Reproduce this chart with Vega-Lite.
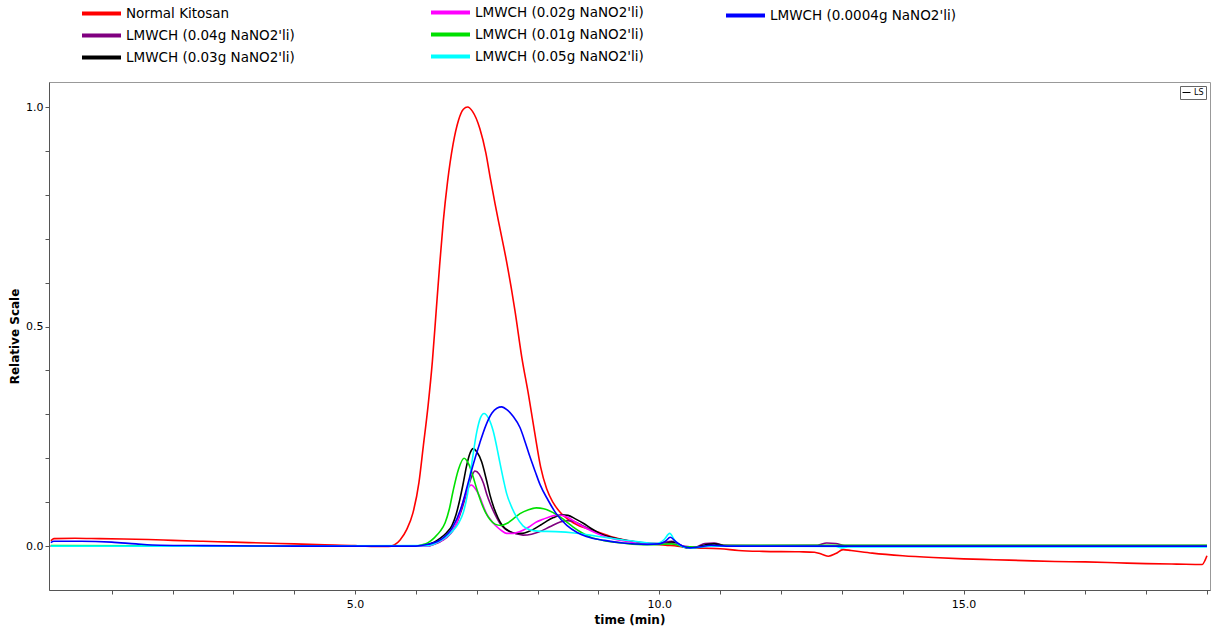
{
"$schema": "https://vega.github.io/schema/vega-lite/v6.json",
"width": 1161, "height": 508,
"autosize": {"type": "none"},
"padding": {"left": 49, "top": 82, "right": 9, "bottom": 47},
"background": "white",
"config": {"view": {"stroke": "#999"}, "font": "DejaVu Sans"},
"datasets": {"gpc": [
{"s":"Normal Kitosan","t":0,"v":0.012},{"s":"Normal Kitosan","t":0.05,"v":0.017},{"s":"Normal Kitosan","t":0.4,"v":0.018},{"s":"Normal Kitosan","t":0.8,"v":0.017},{"s":"Normal Kitosan","t":1.2,"v":0.016},{"s":"Normal Kitosan","t":1.6,"v":0.015},{"s":"Normal Kitosan","t":2.0,"v":0.013},{"s":"Normal Kitosan","t":2.5,"v":0.011},{"s":"Normal Kitosan","t":3.0,"v":0.009},{"s":"Normal Kitosan","t":3.5,"v":0.007},{"s":"Normal Kitosan","t":4.0,"v":0.005},{"s":"Normal Kitosan","t":4.5,"v":0.003},{"s":"Normal Kitosan","t":5.0,"v":0.001},{"s":"Normal Kitosan","t":5.3,"v":-0.001},{"s":"Normal Kitosan","t":5.55,"v":-0.001},{"s":"Normal Kitosan","t":5.65,"v":0.003},{"s":"Normal Kitosan","t":5.74,"v":0.014},{"s":"Normal Kitosan","t":5.85,"v":0.038},{"s":"Normal Kitosan","t":5.95,"v":0.075},{"s":"Normal Kitosan","t":6.05,"v":0.145},{"s":"Normal Kitosan","t":6.12,"v":0.226},{"s":"Normal Kitosan","t":6.2,"v":0.32},{"s":"Normal Kitosan","t":6.27,"v":0.42},{"s":"Normal Kitosan","t":6.33,"v":0.53},{"s":"Normal Kitosan","t":6.39,"v":0.64},{"s":"Normal Kitosan","t":6.45,"v":0.74},{"s":"Normal Kitosan","t":6.52,"v":0.83},{"s":"Normal Kitosan","t":6.61,"v":0.915},{"s":"Normal Kitosan","t":6.7,"v":0.97},{"s":"Normal Kitosan","t":6.78,"v":0.995},{"s":"Normal Kitosan","t":6.85,"v":1.0},{"s":"Normal Kitosan","t":6.93,"v":0.99},{"s":"Normal Kitosan","t":7.05,"v":0.951},{"s":"Normal Kitosan","t":7.15,"v":0.895},{"s":"Normal Kitosan","t":7.22,"v":0.84},{"s":"Normal Kitosan","t":7.3,"v":0.78},{"s":"Normal Kitosan","t":7.38,"v":0.724},{"s":"Normal Kitosan","t":7.49,"v":0.648},{"s":"Normal Kitosan","t":7.63,"v":0.534},{"s":"Normal Kitosan","t":7.74,"v":0.43},{"s":"Normal Kitosan","t":7.85,"v":0.345},{"s":"Normal Kitosan","t":7.95,"v":0.26},{"s":"Normal Kitosan","t":8.05,"v":0.18},{"s":"Normal Kitosan","t":8.15,"v":0.13},{"s":"Normal Kitosan","t":8.25,"v":0.1},{"s":"Normal Kitosan","t":8.37,"v":0.077},{"s":"Normal Kitosan","t":8.6,"v":0.052},{"s":"Normal Kitosan","t":8.91,"v":0.036},{"s":"Normal Kitosan","t":9.2,"v":0.022},{"s":"Normal Kitosan","t":9.5,"v":0.012},{"s":"Normal Kitosan","t":9.8,"v":0.006},{"s":"Normal Kitosan","t":10.1,"v":0.002},{"s":"Normal Kitosan","t":10.3,"v":0.0},{"s":"Normal Kitosan","t":10.5,"v":-0.004},{"s":"Normal Kitosan","t":11.0,"v":-0.006},{"s":"Normal Kitosan","t":11.3,"v":-0.01},{"s":"Normal Kitosan","t":11.7,"v":-0.012},{"s":"Normal Kitosan","t":12.3,"v":-0.013},{"s":"Normal Kitosan","t":12.55,"v":-0.014},{"s":"Normal Kitosan","t":12.68,"v":-0.019},{"s":"Normal Kitosan","t":12.78,"v":-0.023},{"s":"Normal Kitosan","t":12.9,"v":-0.017},{"s":"Normal Kitosan","t":13.02,"v":-0.008},{"s":"Normal Kitosan","t":13.15,"v":-0.01},{"s":"Normal Kitosan","t":13.5,"v":-0.016},{"s":"Normal Kitosan","t":14.0,"v":-0.022},{"s":"Normal Kitosan","t":14.5,"v":-0.026},{"s":"Normal Kitosan","t":15.0,"v":-0.029},{"s":"Normal Kitosan","t":15.5,"v":-0.031},{"s":"Normal Kitosan","t":16.0,"v":-0.033},{"s":"Normal Kitosan","t":16.5,"v":-0.035},{"s":"Normal Kitosan","t":17.0,"v":-0.036},{"s":"Normal Kitosan","t":17.5,"v":-0.038},{"s":"Normal Kitosan","t":18.0,"v":-0.04},{"s":"Normal Kitosan","t":18.5,"v":-0.041},{"s":"Normal Kitosan","t":18.92,"v":-0.042},{"s":"Normal Kitosan","t":18.97,"v":-0.032},{"s":"Normal Kitosan","t":19.0,"v":-0.022},
{"s":"LMWCH (0.04g NaNO2'li)","t":0,"v":0.0},{"s":"LMWCH (0.04g NaNO2'li)","t":6.2,"v":0.0},{"s":"LMWCH (0.04g NaNO2'li)","t":6.3,"v":0.004},{"s":"LMWCH (0.04g NaNO2'li)","t":6.4,"v":0.01},{"s":"LMWCH (0.04g NaNO2'li)","t":6.5,"v":0.019},{"s":"LMWCH (0.04g NaNO2'li)","t":6.61,"v":0.036},{"s":"LMWCH (0.04g NaNO2'li)","t":6.68,"v":0.055},{"s":"LMWCH (0.04g NaNO2'li)","t":6.75,"v":0.082},{"s":"LMWCH (0.04g NaNO2'li)","t":6.81,"v":0.11},{"s":"LMWCH (0.04g NaNO2'li)","t":6.86,"v":0.135},{"s":"LMWCH (0.04g NaNO2'li)","t":6.92,"v":0.16},{"s":"LMWCH (0.04g NaNO2'li)","t":6.97,"v":0.171},{"s":"LMWCH (0.04g NaNO2'li)","t":7.04,"v":0.164},{"s":"LMWCH (0.04g NaNO2'li)","t":7.11,"v":0.143},{"s":"LMWCH (0.04g NaNO2'li)","t":7.16,"v":0.12},{"s":"LMWCH (0.04g NaNO2'li)","t":7.22,"v":0.097},{"s":"LMWCH (0.04g NaNO2'li)","t":7.3,"v":0.072},{"s":"LMWCH (0.04g NaNO2'li)","t":7.38,"v":0.052},{"s":"LMWCH (0.04g NaNO2'li)","t":7.46,"v":0.04},{"s":"LMWCH (0.04g NaNO2'li)","t":7.54,"v":0.033},{"s":"LMWCH (0.04g NaNO2'li)","t":7.65,"v":0.028},{"s":"LMWCH (0.04g NaNO2'li)","t":7.76,"v":0.025},{"s":"LMWCH (0.04g NaNO2'li)","t":7.9,"v":0.027},{"s":"LMWCH (0.04g NaNO2'li)","t":8.04,"v":0.033},{"s":"LMWCH (0.04g NaNO2'li)","t":8.2,"v":0.044},{"s":"LMWCH (0.04g NaNO2'li)","t":8.37,"v":0.055},{"s":"LMWCH (0.04g NaNO2'li)","t":8.5,"v":0.058},{"s":"LMWCH (0.04g NaNO2'li)","t":8.6,"v":0.056},{"s":"LMWCH (0.04g NaNO2'li)","t":8.73,"v":0.047},{"s":"LMWCH (0.04g NaNO2'li)","t":8.86,"v":0.038},{"s":"LMWCH (0.04g NaNO2'li)","t":9.1,"v":0.024},{"s":"LMWCH (0.04g NaNO2'li)","t":9.41,"v":0.014},{"s":"LMWCH (0.04g NaNO2'li)","t":9.7,"v":0.008},{"s":"LMWCH (0.04g NaNO2'li)","t":10.0,"v":0.006},{"s":"LMWCH (0.04g NaNO2'li)","t":10.2,"v":0.011},{"s":"LMWCH (0.04g NaNO2'li)","t":10.3,"v":0.006},{"s":"LMWCH (0.04g NaNO2'li)","t":10.45,"v":-0.003},{"s":"LMWCH (0.04g NaNO2'li)","t":10.6,"v":-0.002},{"s":"LMWCH (0.04g NaNO2'li)","t":10.75,"v":0.006},{"s":"LMWCH (0.04g NaNO2'li)","t":10.9,"v":0.007},{"s":"LMWCH (0.04g NaNO2'li)","t":11.05,"v":0.002},{"s":"LMWCH (0.04g NaNO2'li)","t":11.3,"v":0.001},{"s":"LMWCH (0.04g NaNO2'li)","t":12.6,"v":0.002},{"s":"LMWCH (0.04g NaNO2'li)","t":12.75,"v":0.007},{"s":"LMWCH (0.04g NaNO2'li)","t":12.9,"v":0.006},{"s":"LMWCH (0.04g NaNO2'li)","t":13.05,"v":0.001},{"s":"LMWCH (0.04g NaNO2'li)","t":19.0,"v":0.001},
{"s":"LMWCH (0.03g NaNO2'li)","t":0,"v":0.0},{"s":"LMWCH (0.03g NaNO2'li)","t":6.1,"v":0.0},{"s":"LMWCH (0.03g NaNO2'li)","t":6.2,"v":0.004},{"s":"LMWCH (0.03g NaNO2'li)","t":6.3,"v":0.009},{"s":"LMWCH (0.03g NaNO2'li)","t":6.39,"v":0.017},{"s":"LMWCH (0.03g NaNO2'li)","t":6.5,"v":0.03},{"s":"LMWCH (0.03g NaNO2'li)","t":6.59,"v":0.046},{"s":"LMWCH (0.03g NaNO2'li)","t":6.66,"v":0.072},{"s":"LMWCH (0.03g NaNO2'li)","t":6.72,"v":0.105},{"s":"LMWCH (0.03g NaNO2'li)","t":6.78,"v":0.145},{"s":"LMWCH (0.03g NaNO2'li)","t":6.83,"v":0.181},{"s":"LMWCH (0.03g NaNO2'li)","t":6.89,"v":0.212},{"s":"LMWCH (0.03g NaNO2'li)","t":6.94,"v":0.222},{"s":"LMWCH (0.03g NaNO2'li)","t":7.0,"v":0.215},{"s":"LMWCH (0.03g NaNO2'li)","t":7.08,"v":0.192},{"s":"LMWCH (0.03g NaNO2'li)","t":7.16,"v":0.15},{"s":"LMWCH (0.03g NaNO2'li)","t":7.22,"v":0.115},{"s":"LMWCH (0.03g NaNO2'li)","t":7.28,"v":0.088},{"s":"LMWCH (0.03g NaNO2'li)","t":7.35,"v":0.064},{"s":"LMWCH (0.03g NaNO2'li)","t":7.43,"v":0.045},{"s":"LMWCH (0.03g NaNO2'li)","t":7.55,"v":0.033},{"s":"LMWCH (0.03g NaNO2'li)","t":7.65,"v":0.029},{"s":"LMWCH (0.03g NaNO2'li)","t":7.75,"v":0.029},{"s":"LMWCH (0.03g NaNO2'li)","t":7.85,"v":0.033},{"s":"LMWCH (0.03g NaNO2'li)","t":7.93,"v":0.038},{"s":"LMWCH (0.03g NaNO2'li)","t":8.05,"v":0.048},{"s":"LMWCH (0.03g NaNO2'li)","t":8.15,"v":0.057},{"s":"LMWCH (0.03g NaNO2'li)","t":8.26,"v":0.065},{"s":"LMWCH (0.03g NaNO2'li)","t":8.39,"v":0.071},{"s":"LMWCH (0.03g NaNO2'li)","t":8.5,"v":0.07},{"s":"LMWCH (0.03g NaNO2'li)","t":8.62,"v":0.062},{"s":"LMWCH (0.03g NaNO2'li)","t":8.75,"v":0.052},{"s":"LMWCH (0.03g NaNO2'li)","t":8.88,"v":0.04},{"s":"LMWCH (0.03g NaNO2'li)","t":9.02,"v":0.029},{"s":"LMWCH (0.03g NaNO2'li)","t":9.2,"v":0.02},{"s":"LMWCH (0.03g NaNO2'li)","t":9.41,"v":0.014},{"s":"LMWCH (0.03g NaNO2'li)","t":9.6,"v":0.009},{"s":"LMWCH (0.03g NaNO2'li)","t":9.85,"v":0.005},{"s":"LMWCH (0.03g NaNO2'li)","t":10.1,"v":0.006},{"s":"LMWCH (0.03g NaNO2'li)","t":10.2,"v":0.009},{"s":"LMWCH (0.03g NaNO2'li)","t":10.3,"v":0.004},{"s":"LMWCH (0.03g NaNO2'li)","t":10.45,"v":-0.004},{"s":"LMWCH (0.03g NaNO2'li)","t":10.6,"v":-0.003},{"s":"LMWCH (0.03g NaNO2'li)","t":10.8,"v":0.004},{"s":"LMWCH (0.03g NaNO2'li)","t":10.9,"v":0.005},{"s":"LMWCH (0.03g NaNO2'li)","t":11.1,"v":0.001},{"s":"LMWCH (0.03g NaNO2'li)","t":19.0,"v":0.0},
{"s":"LMWCH (0.02g NaNO2'li)","t":0,"v":0.0},{"s":"LMWCH (0.02g NaNO2'li)","t":6.2,"v":0.0},{"s":"LMWCH (0.02g NaNO2'li)","t":6.3,"v":0.005},{"s":"LMWCH (0.02g NaNO2'li)","t":6.4,"v":0.011},{"s":"LMWCH (0.02g NaNO2'li)","t":6.5,"v":0.02},{"s":"LMWCH (0.02g NaNO2'li)","t":6.6,"v":0.034},{"s":"LMWCH (0.02g NaNO2'li)","t":6.67,"v":0.052},{"s":"LMWCH (0.02g NaNO2'li)","t":6.72,"v":0.075},{"s":"LMWCH (0.02g NaNO2'li)","t":6.78,"v":0.103},{"s":"LMWCH (0.02g NaNO2'li)","t":6.85,"v":0.13},{"s":"LMWCH (0.02g NaNO2'li)","t":6.91,"v":0.139},{"s":"LMWCH (0.02g NaNO2'li)","t":6.98,"v":0.13},{"s":"LMWCH (0.02g NaNO2'li)","t":7.05,"v":0.112},{"s":"LMWCH (0.02g NaNO2'li)","t":7.1,"v":0.094},{"s":"LMWCH (0.02g NaNO2'li)","t":7.16,"v":0.074},{"s":"LMWCH (0.02g NaNO2'li)","t":7.25,"v":0.056},{"s":"LMWCH (0.02g NaNO2'li)","t":7.33,"v":0.044},{"s":"LMWCH (0.02g NaNO2'li)","t":7.41,"v":0.035},{"s":"LMWCH (0.02g NaNO2'li)","t":7.49,"v":0.029},{"s":"LMWCH (0.02g NaNO2'li)","t":7.6,"v":0.029},{"s":"LMWCH (0.02g NaNO2'li)","t":7.71,"v":0.033},{"s":"LMWCH (0.02g NaNO2'li)","t":7.85,"v":0.043},{"s":"LMWCH (0.02g NaNO2'li)","t":7.98,"v":0.055},{"s":"LMWCH (0.02g NaNO2'li)","t":8.09,"v":0.061},{"s":"LMWCH (0.02g NaNO2'li)","t":8.2,"v":0.067},{"s":"LMWCH (0.02g NaNO2'li)","t":8.3,"v":0.07},{"s":"LMWCH (0.02g NaNO2'li)","t":8.4,"v":0.07},{"s":"LMWCH (0.02g NaNO2'li)","t":8.5,"v":0.065},{"s":"LMWCH (0.02g NaNO2'li)","t":8.65,"v":0.052},{"s":"LMWCH (0.02g NaNO2'li)","t":8.86,"v":0.036},{"s":"LMWCH (0.02g NaNO2'li)","t":9.1,"v":0.022},{"s":"LMWCH (0.02g NaNO2'li)","t":9.4,"v":0.012},{"s":"LMWCH (0.02g NaNO2'li)","t":9.8,"v":0.005},{"s":"LMWCH (0.02g NaNO2'li)","t":10.2,"v":0.006},{"s":"LMWCH (0.02g NaNO2'li)","t":10.4,"v":0.0},{"s":"LMWCH (0.02g NaNO2'li)","t":10.6,"v":-0.002},{"s":"LMWCH (0.02g NaNO2'li)","t":11.0,"v":0.0},{"s":"LMWCH (0.02g NaNO2'li)","t":19.0,"v":0.0},
{"s":"LMWCH (0.01g NaNO2'li)","t":0,"v":0.001},{"s":"LMWCH (0.01g NaNO2'li)","t":3.0,"v":0.0},{"s":"LMWCH (0.01g NaNO2'li)","t":6.0,"v":0.0},{"s":"LMWCH (0.01g NaNO2'li)","t":6.1,"v":0.003},{"s":"LMWCH (0.01g NaNO2'li)","t":6.2,"v":0.008},{"s":"LMWCH (0.01g NaNO2'li)","t":6.31,"v":0.02},{"s":"LMWCH (0.01g NaNO2'li)","t":6.4,"v":0.034},{"s":"LMWCH (0.01g NaNO2'li)","t":6.48,"v":0.053},{"s":"LMWCH (0.01g NaNO2'li)","t":6.55,"v":0.085},{"s":"LMWCH (0.01g NaNO2'li)","t":6.61,"v":0.125},{"s":"LMWCH (0.01g NaNO2'li)","t":6.7,"v":0.175},{"s":"LMWCH (0.01g NaNO2'li)","t":6.79,"v":0.2},{"s":"LMWCH (0.01g NaNO2'li)","t":6.87,"v":0.186},{"s":"LMWCH (0.01g NaNO2'li)","t":6.94,"v":0.158},{"s":"LMWCH (0.01g NaNO2'li)","t":7.0,"v":0.13},{"s":"LMWCH (0.01g NaNO2'li)","t":7.08,"v":0.097},{"s":"LMWCH (0.01g NaNO2'li)","t":7.15,"v":0.075},{"s":"LMWCH (0.01g NaNO2'li)","t":7.22,"v":0.06},{"s":"LMWCH (0.01g NaNO2'li)","t":7.3,"v":0.05},{"s":"LMWCH (0.01g NaNO2'li)","t":7.4,"v":0.047},{"s":"LMWCH (0.01g NaNO2'li)","t":7.5,"v":0.052},{"s":"LMWCH (0.01g NaNO2'li)","t":7.6,"v":0.062},{"s":"LMWCH (0.01g NaNO2'li)","t":7.71,"v":0.074},{"s":"LMWCH (0.01g NaNO2'li)","t":7.85,"v":0.083},{"s":"LMWCH (0.01g NaNO2'li)","t":7.98,"v":0.087},{"s":"LMWCH (0.01g NaNO2'li)","t":8.1,"v":0.085},{"s":"LMWCH (0.01g NaNO2'li)","t":8.2,"v":0.08},{"s":"LMWCH (0.01g NaNO2'li)","t":8.31,"v":0.072},{"s":"LMWCH (0.01g NaNO2'li)","t":8.45,"v":0.058},{"s":"LMWCH (0.01g NaNO2'li)","t":8.58,"v":0.044},{"s":"LMWCH (0.01g NaNO2'li)","t":8.72,"v":0.031},{"s":"LMWCH (0.01g NaNO2'li)","t":8.86,"v":0.021},{"s":"LMWCH (0.01g NaNO2'li)","t":9.1,"v":0.012},{"s":"LMWCH (0.01g NaNO2'li)","t":9.4,"v":0.007},{"s":"LMWCH (0.01g NaNO2'li)","t":9.8,"v":0.003},{"s":"LMWCH (0.01g NaNO2'li)","t":10.2,"v":0.005},{"s":"LMWCH (0.01g NaNO2'li)","t":10.4,"v":-0.001},{"s":"LMWCH (0.01g NaNO2'li)","t":10.6,"v":-0.002},{"s":"LMWCH (0.01g NaNO2'li)","t":11.0,"v":0.001},{"s":"LMWCH (0.01g NaNO2'li)","t":12.0,"v":0.002},{"s":"LMWCH (0.01g NaNO2'li)","t":19.0,"v":0.002},
{"s":"LMWCH (0.05g NaNO2'li)","t":0,"v":0.0},{"s":"LMWCH (0.05g NaNO2'li)","t":3.0,"v":0.0},{"s":"LMWCH (0.05g NaNO2'li)","t":6.2,"v":0.001},{"s":"LMWCH (0.05g NaNO2'li)","t":6.3,"v":0.005},{"s":"LMWCH (0.05g NaNO2'li)","t":6.4,"v":0.012},{"s":"LMWCH (0.05g NaNO2'li)","t":6.5,"v":0.021},{"s":"LMWCH (0.05g NaNO2'li)","t":6.6,"v":0.034},{"s":"LMWCH (0.05g NaNO2'li)","t":6.7,"v":0.052},{"s":"LMWCH (0.05g NaNO2'li)","t":6.78,"v":0.077},{"s":"LMWCH (0.05g NaNO2'li)","t":6.85,"v":0.12},{"s":"LMWCH (0.05g NaNO2'li)","t":6.92,"v":0.19},{"s":"LMWCH (0.05g NaNO2'li)","t":7.0,"v":0.26},{"s":"LMWCH (0.05g NaNO2'li)","t":7.06,"v":0.292},{"s":"LMWCH (0.05g NaNO2'li)","t":7.12,"v":0.302},{"s":"LMWCH (0.05g NaNO2'li)","t":7.19,"v":0.292},{"s":"LMWCH (0.05g NaNO2'li)","t":7.27,"v":0.262},{"s":"LMWCH (0.05g NaNO2'li)","t":7.33,"v":0.225},{"s":"LMWCH (0.05g NaNO2'li)","t":7.38,"v":0.19},{"s":"LMWCH (0.05g NaNO2'li)","t":7.44,"v":0.15},{"s":"LMWCH (0.05g NaNO2'li)","t":7.49,"v":0.12},{"s":"LMWCH (0.05g NaNO2'li)","t":7.57,"v":0.09},{"s":"LMWCH (0.05g NaNO2'li)","t":7.65,"v":0.067},{"s":"LMWCH (0.05g NaNO2'li)","t":7.76,"v":0.046},{"s":"LMWCH (0.05g NaNO2'li)","t":7.87,"v":0.037},{"s":"LMWCH (0.05g NaNO2'li)","t":8.0,"v":0.034},{"s":"LMWCH (0.05g NaNO2'li)","t":8.3,"v":0.033},{"s":"LMWCH (0.05g NaNO2'li)","t":8.6,"v":0.03},{"s":"LMWCH (0.05g NaNO2'li)","t":8.86,"v":0.025},{"s":"LMWCH (0.05g NaNO2'li)","t":9.15,"v":0.019},{"s":"LMWCH (0.05g NaNO2'li)","t":9.41,"v":0.014},{"s":"LMWCH (0.05g NaNO2'li)","t":9.7,"v":0.009},{"s":"LMWCH (0.05g NaNO2'li)","t":9.96,"v":0.006},{"s":"LMWCH (0.05g NaNO2'li)","t":10.08,"v":0.015},{"s":"LMWCH (0.05g NaNO2'li)","t":10.17,"v":0.029},{"s":"LMWCH (0.05g NaNO2'li)","t":10.25,"v":0.014},{"s":"LMWCH (0.05g NaNO2'li)","t":10.34,"v":0.002},{"s":"LMWCH (0.05g NaNO2'li)","t":10.5,"v":-0.005},{"s":"LMWCH (0.05g NaNO2'li)","t":10.65,"v":-0.003},{"s":"LMWCH (0.05g NaNO2'li)","t":10.8,"v":0.0},{"s":"LMWCH (0.05g NaNO2'li)","t":12.9,"v":-0.001},{"s":"LMWCH (0.05g NaNO2'li)","t":13.0,"v":-0.004},{"s":"LMWCH (0.05g NaNO2'li)","t":13.1,"v":-0.002},{"s":"LMWCH (0.05g NaNO2'li)","t":16.0,"v":-0.002},{"s":"LMWCH (0.05g NaNO2'li)","t":19.0,"v":-0.002},
{"s":"LMWCH (0.0004g NaNO2'li)","t":0,"v":0.008},{"s":"LMWCH (0.0004g NaNO2'li)","t":0.05,"v":0.011},{"s":"LMWCH (0.0004g NaNO2'li)","t":0.5,"v":0.011},{"s":"LMWCH (0.0004g NaNO2'li)","t":1.0,"v":0.009},{"s":"LMWCH (0.0004g NaNO2'li)","t":1.4,"v":0.005},{"s":"LMWCH (0.0004g NaNO2'li)","t":1.8,"v":0.002},{"s":"LMWCH (0.0004g NaNO2'li)","t":2.5,"v":0.001},{"s":"LMWCH (0.0004g NaNO2'li)","t":4.0,"v":0.0},{"s":"LMWCH (0.0004g NaNO2'li)","t":6.0,"v":0.0},{"s":"LMWCH (0.0004g NaNO2'li)","t":6.2,"v":0.004},{"s":"LMWCH (0.0004g NaNO2'li)","t":6.4,"v":0.014},{"s":"LMWCH (0.0004g NaNO2'li)","t":6.6,"v":0.042},{"s":"LMWCH (0.0004g NaNO2'li)","t":6.75,"v":0.09},{"s":"LMWCH (0.0004g NaNO2'li)","t":6.85,"v":0.14},{"s":"LMWCH (0.0004g NaNO2'li)","t":6.95,"v":0.19},{"s":"LMWCH (0.0004g NaNO2'li)","t":7.05,"v":0.235},{"s":"LMWCH (0.0004g NaNO2'li)","t":7.15,"v":0.275},{"s":"LMWCH (0.0004g NaNO2'li)","t":7.25,"v":0.303},{"s":"LMWCH (0.0004g NaNO2'li)","t":7.33,"v":0.314},{"s":"LMWCH (0.0004g NaNO2'li)","t":7.41,"v":0.317},{"s":"LMWCH (0.0004g NaNO2'li)","t":7.5,"v":0.31},{"s":"LMWCH (0.0004g NaNO2'li)","t":7.6,"v":0.295},{"s":"LMWCH (0.0004g NaNO2'li)","t":7.71,"v":0.27},{"s":"LMWCH (0.0004g NaNO2'li)","t":7.8,"v":0.235},{"s":"LMWCH (0.0004g NaNO2'li)","t":7.87,"v":0.205},{"s":"LMWCH (0.0004g NaNO2'li)","t":7.96,"v":0.17},{"s":"LMWCH (0.0004g NaNO2'li)","t":8.04,"v":0.14},{"s":"LMWCH (0.0004g NaNO2'li)","t":8.17,"v":0.105},{"s":"LMWCH (0.0004g NaNO2'li)","t":8.3,"v":0.075},{"s":"LMWCH (0.0004g NaNO2'li)","t":8.48,"v":0.047},{"s":"LMWCH (0.0004g NaNO2'li)","t":8.65,"v":0.031},{"s":"LMWCH (0.0004g NaNO2'li)","t":8.8,"v":0.022},{"s":"LMWCH (0.0004g NaNO2'li)","t":9.1,"v":0.013},{"s":"LMWCH (0.0004g NaNO2'li)","t":9.4,"v":0.007},{"s":"LMWCH (0.0004g NaNO2'li)","t":9.8,"v":0.004},{"s":"LMWCH (0.0004g NaNO2'li)","t":10.0,"v":0.005},{"s":"LMWCH (0.0004g NaNO2'li)","t":10.1,"v":0.011},{"s":"LMWCH (0.0004g NaNO2'li)","t":10.18,"v":0.02},{"s":"LMWCH (0.0004g NaNO2'li)","t":10.27,"v":0.01},{"s":"LMWCH (0.0004g NaNO2'li)","t":10.38,"v":0.0},{"s":"LMWCH (0.0004g NaNO2'li)","t":10.5,"v":-0.004},{"s":"LMWCH (0.0004g NaNO2'li)","t":10.65,"v":-0.002},{"s":"LMWCH (0.0004g NaNO2'li)","t":10.85,"v":0.002},{"s":"LMWCH (0.0004g NaNO2'li)","t":11.1,"v":0.0},{"s":"LMWCH (0.0004g NaNO2'li)","t":16.0,"v":0.0},{"s":"LMWCH (0.0004g NaNO2'li)","t":19.0,"v":0.0}
]},
"layer": [
{"data": {"name": "gpc"},
 "transform": [{"filter": {"field": "s", "oneOf": ["Normal Kitosan", "LMWCH (0.04g NaNO2'li)", "LMWCH (0.03g NaNO2'li)"]}}],
 "mark": {"type": "line", "strokeWidth": 1.6, "interpolate": "monotone", "clip": true},
 "encoding": {
  "x": {"field": "t", "type": "quantitative", "scale": {"domain": [-0.03, 19.05], "nice": false, "zero": false},
    "axis": {"title": "time (min)", "values": [1,2,3,4,5,6,7,8,9,10,11,12,13,14,15,16,17,18,19], "labelExpr": "datum.value % 5 === 0 ? format(datum.value, '.1f') : ''", "labelOverlap": false, "grid": false, "tickSize": 4, "labelFontSize": 11, "labelFont": "DejaVu Sans", "labelColor": "#000", "titleFont": "DejaVu Sans", "titleFontSize": 12, "titleFontWeight": "bold", "titleColor": "#000", "titlePadding": 5, "labelPadding": 4, "domainColor": "#555", "tickColor": "#555"}},
  "y": {"field": "v", "type": "quantitative", "scale": {"domain": [-0.1, 1.057], "nice": false, "zero": false},
    "axis": {"title": "Relative Scale", "values": [0,0.1,0.2,0.3,0.4,0.5,0.6,0.7,0.8,0.9,1], "labelExpr": "(datum.value === 0 || datum.value === 0.5 || datum.value === 1) ? format(datum.value, '.1f') : ''", "labelOverlap": false, "grid": false, "tickSize": 4, "labelFontSize": 11, "labelFont": "DejaVu Sans", "labelColor": "#000", "titleFont": "DejaVu Sans", "titleFontSize": 12, "titleFontWeight": "bold", "titleColor": "#000", "titlePadding": 4, "labelPadding": 2, "domainColor": "#555", "tickColor": "#555"}},
  "color": {"field": "s", "type": "nominal",
    "scale": {"domain": ["Normal Kitosan", "LMWCH (0.04g NaNO2'li)", "LMWCH (0.03g NaNO2'li)"], "range": ["#ff0000", "#800080", "#000000"]},
    "legend": {"title": null, "orient": "none", "legendX": 31, "legendY": -77, "direction": "vertical", "symbolType": "M-1,0H5", "symbolSize": 169, "symbolStrokeWidth": 4, "labelFont": "DejaVu Sans", "labelFontSize": 13.5, "labelColor": "#000", "labelOffset": 29, "rowPadding": 5, "padding": 0, "labelLimit": 400}}
 }},
{"data": {"name": "gpc"},
 "transform": [{"filter": {"field": "s", "oneOf": ["LMWCH (0.02g NaNO2'li)", "LMWCH (0.01g NaNO2'li)", "LMWCH (0.05g NaNO2'li)"]}}],
 "mark": {"type": "line", "strokeWidth": 1.6, "interpolate": "monotone", "clip": true},
 "encoding": {
  "x": {"field": "t", "type": "quantitative"},
  "y": {"field": "v", "type": "quantitative"},
  "color": {"field": "s", "type": "nominal",
    "scale": {"domain": ["LMWCH (0.02g NaNO2'li)", "LMWCH (0.01g NaNO2'li)", "LMWCH (0.05g NaNO2'li)"], "range": ["#ff00ff", "#00e000", "#00ffff"]},
    "legend": {"title": null, "orient": "none", "legendX": 380, "legendY": -78, "direction": "vertical", "symbolType": "M-1,0H5", "symbolSize": 169, "symbolStrokeWidth": 4, "labelFont": "DejaVu Sans", "labelFontSize": 13.5, "labelColor": "#000", "labelOffset": 29, "rowPadding": 5, "padding": 0, "labelLimit": 400}}
 }},
{"data": {"name": "gpc"},
 "transform": [{"filter": {"field": "s", "oneOf": ["LMWCH (0.0004g NaNO2'li)"]}}],
 "mark": {"type": "line", "strokeWidth": 1.6, "interpolate": "monotone", "clip": true},
 "encoding": {
  "x": {"field": "t", "type": "quantitative"},
  "y": {"field": "v", "type": "quantitative"},
  "color": {"field": "s", "type": "nominal",
    "scale": {"domain": ["LMWCH (0.0004g NaNO2'li)"], "range": ["#0000ff"]},
    "legend": {"title": null, "orient": "none", "legendX": 675, "legendY": -75, "direction": "vertical", "symbolType": "M-1,0H5", "symbolSize": 169, "symbolStrokeWidth": 4, "labelFont": "DejaVu Sans", "labelFontSize": 13.5, "labelColor": "#000", "labelOffset": 29, "padding": 0, "labelLimit": 400}}
 }},
{"data": {"values": [{"s": "LS"}]},
 "mark": {"type": "point", "opacity": 0},
 "encoding": {
  "color": {"field": "s", "type": "nominal", "scale": {"domain": ["LS"], "range": ["#000000"]},
    "legend": {"title": null, "orient": "none", "legendX": 1131, "legendY": 4, "symbolType": "stroke", "symbolSize": 64, "symbolStrokeWidth": 1, "labelFont": "DejaVu Sans", "labelFontSize": 8, "labelColor": "#000", "labelOffset": 3, "padding": 2, "strokeColor": "#666",
      "encode": {"symbols": {"update": {"opacity": {"value": 1}, "stroke": {"value": "#000000"}}}}}}
 }}
],
"resolve": {"scale": {"color": "independent"}, "legend": {"color": "independent"}}
}
